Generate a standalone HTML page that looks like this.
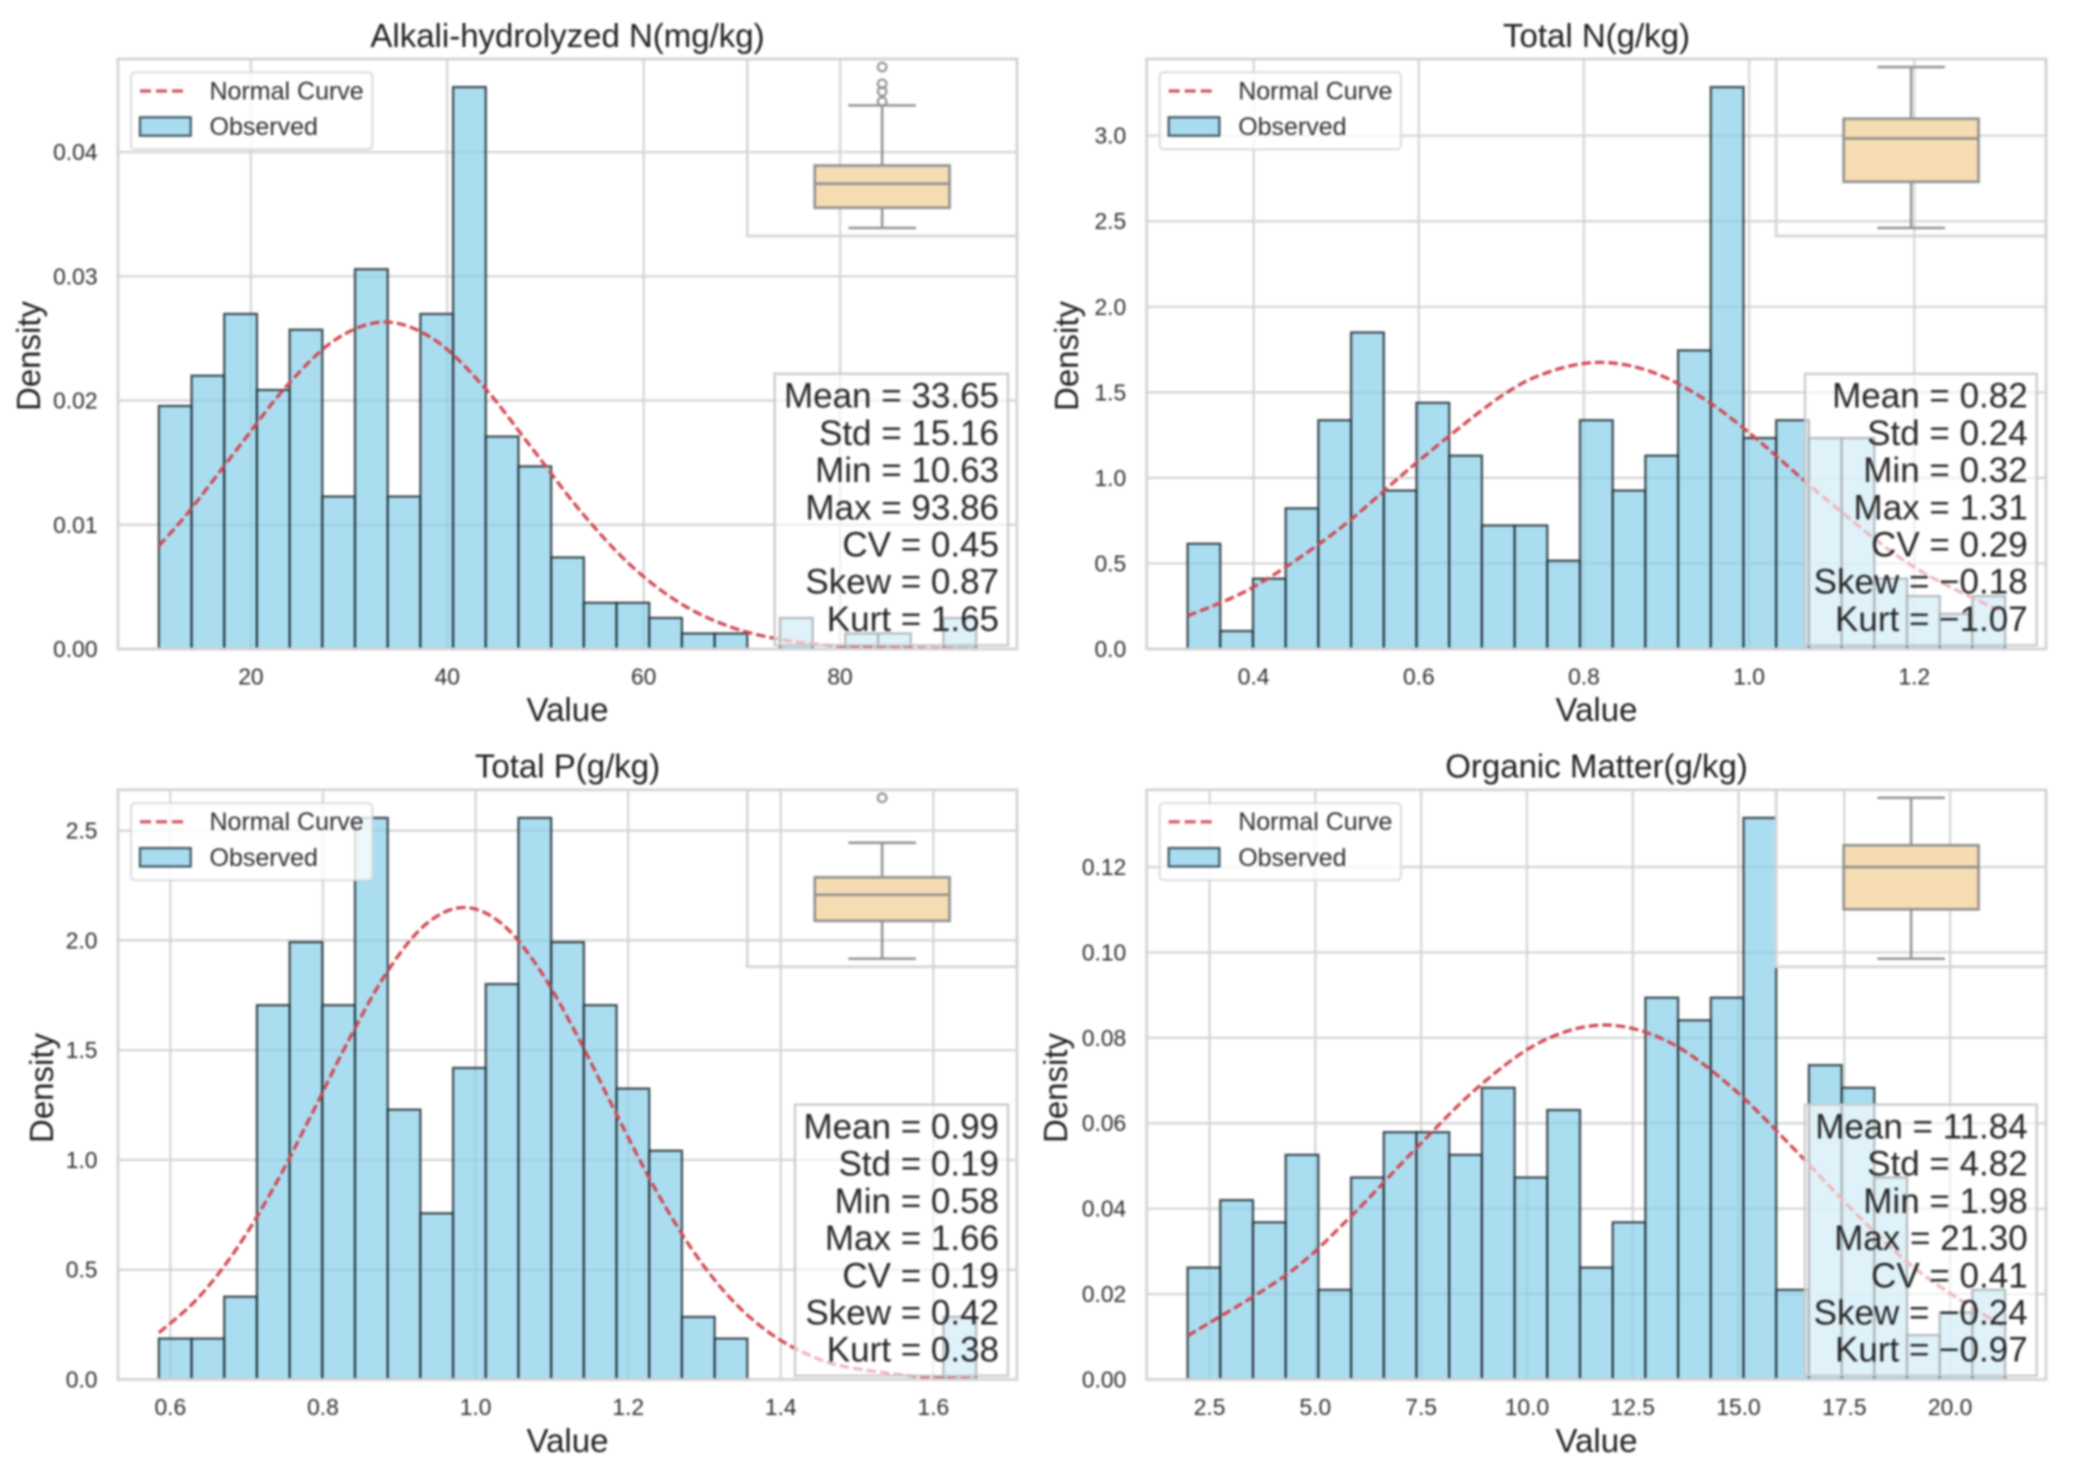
<!DOCTYPE html>
<html lang="en">
<head>
<meta charset="utf-8">
<title>Soil nutrient distributions</title>
<style>
html,body{margin:0;padding:0;background:#fff;}
svg{display:block;filter:blur(0.95px);font-family:"Liberation Sans",Arial,sans-serif;}
.title{font-size:33px;fill:#1f1f1f;text-anchor:middle;}
.axis-label{font-size:33px;fill:#1f1f1f;text-anchor:middle;}
.legend-text{font-size:25px;fill:#2e2e2e;}
</style>
</head>
<body>
<svg id="figure" xmlns="http://www.w3.org/2000/svg" width="2073" height="1477" viewBox="0 0 2073 1477">
  <rect width="2073" height="1477" fill="#fff"/>

  <g>
    <g id="marks1"></g>
    <text class="title" x="567.5" y="47">Alkali-hydrolyzed N(mg/kg)</text>
    <text class="axis-label" x="567.5" y="721">Value</text>
    <text class="axis-label" transform="translate(40,356) rotate(-90)">Density</text>
    <g transform="translate(118,59)">
      <rect x="13" y="13.3" width="241.3" height="77" rx="4" fill="#fff" fill-opacity="0.8" stroke="#d8d8d8" stroke-width="1.8"/>
      <line x1="22" y1="32" x2="68" y2="32" stroke="#cf5560" stroke-width="3.2" stroke-dasharray="11,5"/>
      <text class="legend-text" x="91.5" y="40.3">Normal Curve</text>
      <rect x="22" y="58.3" width="50.7" height="18.4" fill="#a9dcf0" stroke="#3e5560" stroke-width="2.2"/>
      <text class="legend-text" x="91.5" y="76">Observed</text>
    </g>
  </g>

  <g>
    <g id="marks2"></g>
    <text class="title" x="1596.5" y="47">Total N(g/kg)</text>
    <text class="axis-label" x="1596.5" y="721">Value</text>
    <text class="axis-label" transform="translate(1078,356) rotate(-90)">Density</text>
    <g transform="translate(1146.7,59)">
      <rect x="13" y="13.3" width="241.3" height="77" rx="4" fill="#fff" fill-opacity="0.8" stroke="#d8d8d8" stroke-width="1.8"/>
      <line x1="22" y1="32" x2="68" y2="32" stroke="#cf5560" stroke-width="3.2" stroke-dasharray="11,5"/>
      <text class="legend-text" x="91.5" y="40.3">Normal Curve</text>
      <rect x="22" y="58.3" width="50.7" height="18.4" fill="#a9dcf0" stroke="#3e5560" stroke-width="2.2"/>
      <text class="legend-text" x="91.5" y="76">Observed</text>
    </g>
  </g>

  <g>
    <g id="marks3"></g>
    <text class="title" x="567.5" y="777.5">Total P(g/kg)</text>
    <text class="axis-label" x="567.5" y="1452">Value</text>
    <text class="axis-label" transform="translate(53,1088) rotate(-90)">Density</text>
    <g transform="translate(118,789.8)">
      <rect x="13" y="13.3" width="241.3" height="77" rx="4" fill="#fff" fill-opacity="0.8" stroke="#d8d8d8" stroke-width="1.8"/>
      <line x1="22" y1="32" x2="68" y2="32" stroke="#cf5560" stroke-width="3.2" stroke-dasharray="11,5"/>
      <text class="legend-text" x="91.5" y="40.3">Normal Curve</text>
      <rect x="22" y="58.3" width="50.7" height="18.4" fill="#a9dcf0" stroke="#3e5560" stroke-width="2.2"/>
      <text class="legend-text" x="91.5" y="76">Observed</text>
    </g>
  </g>

  <g>
    <g id="marks4"></g>
    <text class="title" x="1596.5" y="777.5">Organic Matter(g/kg)</text>
    <text class="axis-label" x="1596.5" y="1452">Value</text>
    <text class="axis-label" transform="translate(1067,1088) rotate(-90)">Density</text>
    <g transform="translate(1146.7,789.8)">
      <rect x="13" y="13.3" width="241.3" height="77" rx="4" fill="#fff" fill-opacity="0.8" stroke="#d8d8d8" stroke-width="1.8"/>
      <line x1="22" y1="32" x2="68" y2="32" stroke="#cf5560" stroke-width="3.2" stroke-dasharray="11,5"/>
      <text class="legend-text" x="91.5" y="40.3">Normal Curve</text>
      <rect x="22" y="58.3" width="50.7" height="18.4" fill="#a9dcf0" stroke="#3e5560" stroke-width="2.2"/>
      <text class="legend-text" x="91.5" y="76">Observed</text>
    </g>
  </g>
</svg>

<script>
// ---- Alkali-hydrolyzed N ----
const alkaliRange = [10.63, 93.86];
const alkaliDensity = [0.01956,0.0220,0.02697,0.02085,0.0257,0.01227,0.03057,0.01227,0.02697,0.04523,0.0171,0.0147,0.00737,0.00372,0.00372,0.0025,0.00125,0.00125,0,0.0025,0,0.00125,0.00125,0,0.0025];
const alkaliCurveX = [10.63,13.65,18.65,23.65,28.65,33.65,38.65,43.65,48.65,53.65,58.65,63.65,68.65,73.65,78.65,83.65,93.86];
const alkaliCurveY = [0.0083,0.01102,0.01614,0.02117,0.02492,0.02632,0.02492,0.02117,0.01614,0.01102,0.00676,0.00372,0.00183,0.00081,0.00032,0.00011,0];
const alkaliBox = [10.63,21.1,33.55,42.9,74.0];
const alkaliFliers = [76,81.2,85.2,93.86];
const alkaliXTicks = [20,40,60,80];
const alkaliXLabels = ['20','40','60','80'];
const alkaliYTicks = [0,0.01,0.02,0.03,0.04];
const alkaliYLabels = ['0.00','0.01','0.02','0.03','0.04'];
const alkaliStats = ['Mean = 33.65','Std = 15.16','Min = 10.63','Max = 93.86','CV = 0.45','Skew = 0.87','Kurt = 1.65'];

// ---- Total N ----
const totalNRange = [0.32, 1.31];
const totalNDensity = [0.615,0.105,0.411,0.822,1.337,1.85,0.926,1.439,1.13,0.722,0.722,0.516,1.337,0.926,1.13,1.745,3.284,1.233,1.337,1.233,1.233,0.411,0.309,0.205,0.309];
const totalNCurveX = [0.32,0.4,0.5,0.6,0.7,0.76,0.82,0.88,0.94,1.0,1.1,1.2,1.31];
const totalNCurveY = [0.193,0.363,0.688,1.10,1.478,1.623,1.675,1.623,1.478,1.264,0.848,0.478,0.209];
const totalNBox = [0.32,0.604,0.871,0.992,1.31];
const totalNFliers = [];
const totalNXTicks = [0.4,0.6,0.8,1.0,1.2];
const totalNXLabels = ['0.4','0.6','0.8','1.0','1.2'];
const totalNYTicks = [0,0.5,1,1.5,2,2.5,3];
const totalNYLabels = ['0.0','0.5','1.0','1.5','2.0','2.5','3.0'];
const totalNStats = ['Mean = 0.82','Std = 0.24','Min = 0.32','Max = 1.31','CV = 0.29','Skew = \u22120.18','Kurt = \u22121.07'];

// ---- Total P ----
const totalPRange = [0.585, 1.656];
const totalPDensity = [0.1865,0.1865,0.377,1.705,1.992,1.705,2.558,1.229,0.757,1.419,1.801,2.558,1.992,1.705,1.325,1.042,0.285,0.1865,0,0,0,0,0,0,0.285];
const totalPCurveX = [0.585,0.635,0.685,0.735,0.785,0.835,0.885,0.935,0.985,1.035,1.085,1.135,1.185,1.235,1.285,1.335,1.385,1.435,1.485,1.585,1.656];
const totalPCurveY = [0.213,0.366,0.586,0.871,1.206,1.554,1.861,2.074,2.15,2.074,1.861,1.554,1.206,0.871,0.586,0.366,0.213,0.115,0.058,0.012,0.003];
const totalPBox = [0.585,0.837,1.0106,1.1266,1.357];
const totalPFliers = [1.656];
const totalPXTicks = [0.6,0.8,1.0,1.2,1.4,1.6];
const totalPXLabels = ['0.6','0.8','1.0','1.2','1.4','1.6'];
const totalPYTicks = [0,0.5,1,1.5,2,2.5];
const totalPYLabels = ['0.0','0.5','1.0','1.5','2.0','2.5'];
const totalPStats = ['Mean = 0.99','Std = 0.19','Min = 0.58','Max = 1.66','CV = 0.19','Skew = 0.42','Kurt = 0.38'];

// ---- Organic Matter ----
const organicRange = [1.98, 21.30];
const organicDensity = [0.0262,0.042,0.0368,0.0526,0.021,0.0473,0.0579,0.0579,0.0526,0.0683,0.0473,0.0631,0.0262,0.0368,0.0894,0.0841,0.0894,0.1315,0.021,0.0736,0.0683,0.0473,0.0104,0.0157,0.021];
const organicCurveX = [1.98,4.34,5.84,7.34,8.84,10.34,11.84,13.34,14.84,16.34,17.84,19.34,21.3];
const organicCurveY = [0.0102,0.0247,0.0382,0.0537,0.0684,0.0791,0.083,0.0791,0.0684,0.0537,0.0382,0.0247,0.0121];
const organicBox = [1.98,7.91,12.99,15.6,21.30];
const organicFliers = [];
const organicXTicks = [2.5,5,7.5,10,12.5,15,17.5,20];
const organicXLabels = ['2.5','5.0','7.5','10.0','12.5','15.0','17.5','20.0'];
const organicYTicks = [0,0.02,0.04,0.06,0.08,0.10,0.12];
const organicYLabels = ['0.00','0.02','0.04','0.06','0.08','0.10','0.12'];
const organicStats = ['Mean = 11.84','Std = 4.82','Min = 1.98','Max = 21.30','CV = 0.41','Skew = \u22120.24','Kurt = \u22120.97'];

const NS = 'http://www.w3.org/2000/svg';
const BIN_COUNT = 25;

function create(parent, tag, attrs) {
  const el = document.createElementNS(NS, tag);
  for (const k in attrs) el.setAttribute(k, attrs[k]);
  parent.appendChild(el);
  return el;
}

function smoothPath(pts) {
  let d = 'M' + pts[0][0].toFixed(2) + ' ' + pts[0][1].toFixed(2);
  for (let i = 0; i < pts.length - 1; i++) {
    const p0 = pts[Math.max(i - 1, 0)], p1 = pts[i], p2 = pts[i + 1], p3 = pts[Math.min(i + 2, pts.length - 1)];
    const c1x = p1[0] + (p2[0] - p0[0]) / 6, c1y = p1[1] + (p2[1] - p0[1]) / 6;
    const c2x = p2[0] - (p3[0] - p1[0]) / 6, c2y = p2[1] - (p3[1] - p1[1]) / 6;
    d += 'C' + c1x.toFixed(2) + ' ' + c1y.toFixed(2) + ' ' + c2x.toFixed(2) + ' ' + c2y.toFixed(2) + ' ' + p2[0].toFixed(2) + ' ' + p2[1].toFixed(2);
  }
  return d;
}

function drawPanel(cfg) {
  const root = document.getElementById(cfg.target);
  const L = cfg.left, R = cfg.right, T = cfg.top, B = cfg.bottom;
  const lo = cfg.range[0], hi = cfg.range[1];
  const pad = (hi - lo) * 0.05;
  const x = v => L + (v - (lo - pad)) / (hi - lo + 2 * pad) * (R - L);
  const ymax = Math.max.apply(null, cfg.density) * 1.05;
  const y = v => B - v / ymax * (B - T);

  // grid
  cfg.xTicks.forEach((t, i) => {
    const g = create(root, 'line', {x1: x(t), x2: x(t), y1: T, y2: B, stroke: '#d4d4d4', 'stroke-width': 2.2});
    
    
    const lab = create(root, 'text', {x: x(t), y: B + 35.4, 'text-anchor': 'middle', 'font-size': 22.8, fill: '#2e2e2e'});
    
    
    lab.textContent = cfg.xLabels[i];
  });
  cfg.yTicks.forEach((t, i) => {
    const g = create(root, 'line', {x1: L, x2: R, y1: y(t), y2: y(t), stroke: '#d4d4d4', 'stroke-width': 2.2});
    
    
    const lab = create(root, 'text', {x: L - 20.5, y: y(t) + 8, 'text-anchor': 'end', 'font-size': 22.8, fill: '#2e2e2e'});
    
    
    lab.textContent = cfg.yLabels[i];
  });

  // histogram bars
  const binW = (hi - lo) / BIN_COUNT;
  cfg.density.forEach((d, i) => {
    if (d <= 0) return;
    const bx = x(lo + i * binW), bw = x(lo + (i + 1) * binW) - bx;
    const bar = create(root, 'rect', {x: bx, y: y(d), width: bw, height: y(0) - y(d), fill: '#87ceeb', 'fill-opacity': 0.7, stroke: '#1e2b30', 'stroke-opacity': 0.85, 'stroke-width': 2.2});
    
    
  });

  // normal curve
  const pts = cfg.curveX.map((v, i) => [x(v), y(cfg.curveY[i])]);
  const curve = create(root, 'path', {d: smoothPath(pts), fill: 'none', stroke: '#cf4650', 'stroke-width': 3.2, 'stroke-dasharray': '9.5,4'});
  
  

  // axes frame
  const frame = create(root, 'rect', {x: L, y: T, width: R - L, height: B - T, fill: 'none', stroke: '#d4d4d4', 'stroke-width': 2.8});
  
  

  // box plot inset
  const iw = (R - L) * 0.3, ih = (B - T) * 0.3;
  const iL = R - iw, iB = T + ih;
  const inset = create(root, 'rect', {x: iL, y: T, width: iw, height: ih, fill: 'none', stroke: '#d4d4d4', 'stroke-width': 2.6});
  
  
  const by = v => iB - (v - (lo - pad)) / (hi - lo + 2 * pad) * ih;
  const cx = iL + iw / 2;
  const boxHalf = iw * 0.25, capHalf = iw * 0.125;
  const [wLo, q1, med, q3, wHi] = cfg.box;
  const whiskerLo = create(root, 'line', {x1: cx, x2: cx, y1: by(q1), y2: by(wLo), stroke: '#8f8f8f', 'stroke-width': 2.4});
  
  
  const whiskerHi = create(root, 'line', {x1: cx, x2: cx, y1: by(q3), y2: by(wHi), stroke: '#8f8f8f', 'stroke-width': 2.4});
  
  
  const capLo = create(root, 'line', {x1: cx - capHalf, x2: cx + capHalf, y1: by(wLo), y2: by(wLo), stroke: '#8f8f8f', 'stroke-width': 2.4});
  
  
  const capHi = create(root, 'line', {x1: cx - capHalf, x2: cx + capHalf, y1: by(wHi), y2: by(wHi), stroke: '#8f8f8f', 'stroke-width': 2.4});
  
  
  const box = create(root, 'rect', {x: cx - boxHalf, y: by(q3), width: boxHalf * 2, height: by(q1) - by(q3), fill: '#f6dcb2', stroke: '#8f8f8f', 'stroke-width': 2.6});
  
  
  const median = create(root, 'line', {x1: cx - boxHalf, x2: cx + boxHalf, y1: by(med), y2: by(med), stroke: '#8f8f8f', 'stroke-width': 2.6});
  
  
  cfg.fliers.forEach(f => {
    const c = create(root, 'circle', {cx: cx, cy: by(f), r: 4.3, fill: 'none', stroke: '#8f8f8f', 'stroke-width': 2.1});
    
    
  });

  // statistics box
  const sTop = T + 314.8, sBottom = B - 3.8, sRight = R - (cfg.statRightGap);
  const statBox = create(root, 'rect', {x: cfg.statLeft, y: sTop, width: sRight - cfg.statLeft, height: sBottom - sTop, fill: '#fff', 'fill-opacity': 0.62, stroke: '#c8c8c8', 'stroke-width': 2.2});
  
  
  cfg.stats.forEach((s, i) => {
    const t = create(root, 'text', {x: sRight - 9, y: T + 348.7 + i * 37.2, 'text-anchor': 'end', 'font-size': 35, fill: '#262626'});
    
    
    t.textContent = s;
  });
}

drawPanel({target:'marks1', left:118, right:1017, top:59, bottom:649, statLeft:774.7, statRightGap:9,
  range:alkaliRange, density:alkaliDensity, curveX:alkaliCurveX, curveY:alkaliCurveY, box:alkaliBox, fliers:alkaliFliers,
  xTicks:alkaliXTicks, xLabels:alkaliXLabels, yTicks:alkaliYTicks, yLabels:alkaliYLabels, stats:alkaliStats});
drawPanel({target:'marks2', left:1146.7, right:2046, top:59, bottom:649, statLeft:1805, statRightGap:9.3,
  range:totalNRange, density:totalNDensity, curveX:totalNCurveX, curveY:totalNCurveY, box:totalNBox, fliers:totalNFliers,
  xTicks:totalNXTicks, xLabels:totalNXLabels, yTicks:totalNYTicks, yLabels:totalNYLabels, stats:totalNStats});
drawPanel({target:'marks3', left:118, right:1017, top:789.8, bottom:1379.5, statLeft:795, statRightGap:9,
  range:totalPRange, density:totalPDensity, curveX:totalPCurveX, curveY:totalPCurveY, box:totalPBox, fliers:totalPFliers,
  xTicks:totalPXTicks, xLabels:totalPXLabels, yTicks:totalPYTicks, yLabels:totalPYLabels, stats:totalPStats});
drawPanel({target:'marks4', left:1146.7, right:2046, top:789.8, bottom:1379.5, statLeft:1805, statRightGap:9.3,
  range:organicRange, density:organicDensity, curveX:organicCurveX, curveY:organicCurveY, box:organicBox, fliers:organicFliers,
  xTicks:organicXTicks, xLabels:organicXLabels, yTicks:organicYTicks, yLabels:organicYLabels, stats:organicStats});
</script>
</body>
</html>
